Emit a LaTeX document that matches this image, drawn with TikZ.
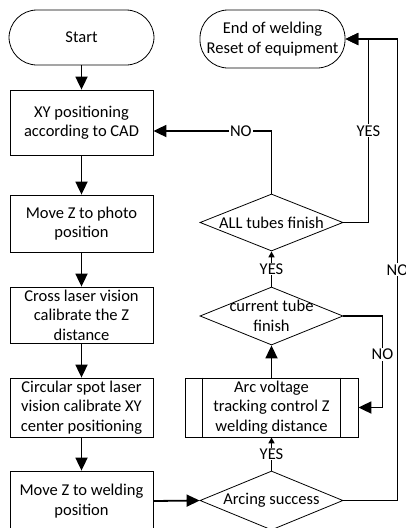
\documentclass[tikz,border=0pt]{standalone}
\usepackage{fontspec}
\setmainfont{Carlito}
\usetikzlibrary{shapes.geometric,arrows.meta}
\begin{document}
\begin{tikzpicture}
    [x=1pt, y=-1pt, font=\fontsize{16.5}{19.5}\selectfont,
    ProcNode/.style={rectangle, draw=black, line width=0.8pt, minimum width=143pt, align=center, inner sep=0pt},
    TermNode/.style={rectangle, rounded corners=28pt, draw=black, line width=0.8pt, minimum width=145pt, align=center},
    DecNode/.style={diamond, draw=black, line width=0.8pt, minimum width=143pt, inner sep=0pt},
    BigArrow/.style={line width=1.8pt, -{Triangle[length=13pt, width=12pt]}},
    SmallArrow/.style={line width=1.8pt, -{Triangle[length=6pt, width=6pt]}},
    EdgeLabel/.style={fill=white, inner sep=1pt}]
     \useasboundingbox (0,0) rectangle (405,528);
     % left column
     \node[TermNode, minimum height=55pt] (StartNode) at (81.5,37.5){Start};
     \node[ProcNode, minimum height=65pt] (XYBox) at (81.5,122.5){XY positioning\\according to CAD};
     \node[ProcNode, minimum height=57pt] (PhotoBox) at (81.5,223.5){Move Z to photo\\position};
     \node[ProcNode, minimum height=56pt] (CrossBox) at (81.5,315){Cross laser vision\\calibrate the Z\\distance};
     \node[ProcNode, minimum height=59pt] (SpotBox) at (81.5,407.5){Circular spot laser\\vision calibrate XY\\center positioning};
     \node[ProcNode, minimum height=60pt] (WeldBox) at (81.5,501){Move Z to welding\\position};
     % right column
     \node[TermNode, minimum height=58pt] (EndNode) at (272.5,39){End of welding\\Reset of equipment};
     \node[DecNode, minimum height=57pt, label=center:{ALL tubes finish}] (AllDec) at (271.5,222.5){};
     \node[DecNode, minimum height=58pt, label={[align=center]center:current tube\\finish}] (CurDec) at (271.5,316){};
     \node[ProcNode, minimum width=173pt, minimum height=59pt] (ArcBox) at (271.5,407.5){Arc voltage\\tracking control Z\\welding distance};
     \draw[line width=0.8pt] ([xshift=18pt]ArcBox.north west) -- ([xshift=18pt]ArcBox.south west);
     \draw[line width=0.8pt] ([xshift=-18pt]ArcBox.north east) -- ([xshift=-18pt]ArcBox.south east);
     \node[DecNode, minimum height=59pt, label=center:{Arcing success}] (ArcingDec) at (271.5,500.5){};
     % main flow
     \draw[BigArrow] (StartNode) -- (XYBox);
     \draw[BigArrow] (XYBox) -- (PhotoBox);
     \draw[BigArrow] (PhotoBox) -- (CrossBox);
     \draw[BigArrow] (CrossBox) -- (SpotBox);
     \draw[BigArrow] (SpotBox) -- (WeldBox);
     \draw[BigArrow] (WeldBox.east) -- (ArcingDec.west);
     \draw[SmallArrow] (ArcingDec.north) -- (ArcBox.south) node[EdgeLabel, midway]{YES};
     \draw[BigArrow] (ArcBox.north) -- (CurDec.south);
     \draw[SmallArrow] (CurDec.north) -- (AllDec.south) node[EdgeLabel, midway]{YES};
     % loops
     \draw[BigArrow] (CurDec.east) -- ++(39,0) |- (ArcBox.east) node[EdgeLabel, pos=0.21]{NO};
     \draw[BigArrow] (AllDec.north) |- ([yshift=-8.5pt]XYBox.east) node[EdgeLabel, pos=0.63]{NO};
     \draw[BigArrow] (AllDec.east) -- ++(25,0) |- (EndNode.east) node[EdgeLabel, pos=0.25]{YES};
     \draw[BigArrow] (ArcingDec.east) -- ++(54,0) |- (EndNode.east) node[EdgeLabel, pos=0.25]{NO};
\end{tikzpicture}
\end{document}
